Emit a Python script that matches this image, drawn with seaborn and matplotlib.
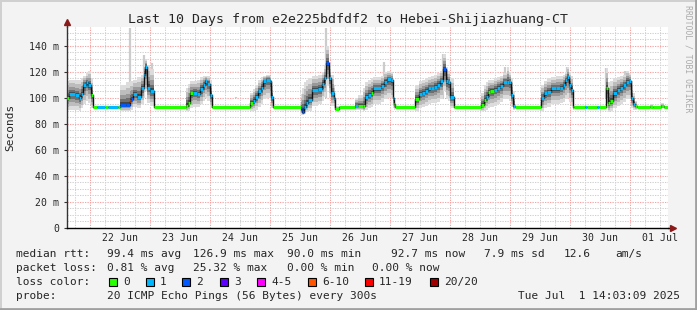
import matplotlib
matplotlib.use("Agg")
import numpy as np
import pandas as pd
import matplotlib.pyplot as plt
from matplotlib.patches import Rectangle
from matplotlib.lines import Line2D
import seaborn as sns

# ---------------- data (hours relative to 22 Jun 2025 00:00) ----------------
hours = [-9.2, -8.4, -6.0, -4.4, -3.6, -2.8, -1.6, -0.8, 0.4, 1.2,
         2.8, 6.0, 7.2, 11.2, 12.0, 14.4, 16.0, 16.4, 17.2, 18.8,
         20.4, 21.6, 22.0, 22.8, 24.0, 25.6, 38.4, 39.2, 40.0, 41.2,
         42.8, 44.0, 45.2, 46.0, 46.8, 48.0, 48.8, 64.0, 65.2, 66.0,
         67.2, 68.4, 69.2, 70.4, 72.0, 72.4, 73.2, 84.4, 84.8, 85.6,
         86.4, 87.2, 88.8, 91.2, 92.8, 93.6, 94.4, 95.6, 96.4, 97.6,
         98.0, 99.6, 106.0, 107.2, 109.2, 110.0, 111.2, 112.4, 113.2, 116.4,
         117.6, 118.8, 120.4, 121.2, 121.6, 122.0, 130.0, 131.6, 132.8, 134.0,
         135.2, 136.4, 137.6, 138.8, 140.0, 141.2, 142.4, 143.2, 144.0, 145.6,
         156.4, 157.6, 158.4, 159.2, 160.0, 161.6, 162.8, 164.0, 165.2, 166.8,
         167.6, 168.4, 169.2, 170.0, 180.4, 181.6, 182.8, 184.4, 186.4, 188.0,
         189.2, 190.0, 190.8, 191.6, 192.4, 193.2, 193.6, 198.0, 198.8, 202.8,
         203.6, 206.4, 207.2, 208.0, 209.2, 210.8, 212.0, 213.2, 214.4, 215.6,
         216.4, 217.2, 218.0, 218.8, 224.0, 225.2, 228.4, 229.6, 231.2]

median_ms = [100, 103, 102, 100, 103, 110, 112, 110, 102, 92.7,
             92.7, 92.7, 92.7, 92.7, 94.5, 94.5, 97.5, 99, 103, 101,
             108, 118, 124, 108, 105, 92.7, 94, 96.5, 103.5, 104,
             103, 107, 110, 113, 111, 102, 92.7, 96.5, 98, 101,
             105, 108, 113, 114, 113, 100.5, 92.7, 91.5, 89.5, 93,
             96, 98.5, 106, 107, 111, 115, 127, 115, 103.5, 100,
             91.8, 92.7, 94, 94, 93.5, 100.5, 102.5, 104, 107.5, 109.5,
             112.5, 114.5, 113.5, 100, 95.5, 92.7, 99, 103, 104, 105.5,
             107.5, 107.5, 108.5, 110, 113, 122.5, 113, 112, 100.5, 92.7,
             94.5, 98.5, 101, 104.5, 105.5, 106.5, 108, 109.5, 112.5, 112.5,
             112, 102, 94, 92.7, 99.7, 103.5, 104.5, 107.5, 107.5, 108,
             110, 113.5, 116, 110, 106, 93, 92.7, 92.7, 92.7, 92.7,
             92.7, 108, 96, 98, 103.5, 106, 108, 110, 112.5, 113,
             100, 95.5, 93.5, 92.7, 92.7, 92.7, 93.5, 92.7, 92.7]

loss_idx = [0, 1, 1, 1, 1, 1, 1, 1, 0, 0,
            1, 0, 1, 0, 2, 2, 5, 2, 1, 1,
            1, 1, 1, 1, 1, 0, 0, 0, 0, 1,
            1, 1, 1, 1, 1, 1, 0, 0, 1, 1,
            1, 1, 1, 1, 1, 1, 0, 2, 2, 1,
            1, 1, 1, 1, 1, 1, 2, 1, 1, 1,
            0, 0, 1, 0, 0, 1, 1, 0, 1, 1,
            1, 1, 1, 1, 0, 0, 0, 1, 1, 1,
            1, 1, 1, 1, 1, 2, 1, 1, 1, 0,
            0, 0, 1, 0, 0, 1, 1, 1, 1, 1,
            1, 1, 1, 0, 1, 1, 1, 1, 1, 1,
            1, 1, 1, 1, 1, 0, 0, 1, 0, 1,
            0, 0, 0, 0, 1, 1, 1, 1, 1, 1,
            1, 1, 0, 0, 0, 0, 0, 0, 0]

smoke_lo = [91, 91, 91, 90, 92, 95, 98, 96, 92, 92,
            92, 92, 92, 92, 90, 90, 90, 91, 93, 92,
            95, 100, 105, 96, 94, 92, 90, 90, 92, 93,
            93, 95, 98, 100, 98, 92, 92, 90, 90, 91,
            93, 95, 99, 100, 98, 92, 92, 87, 87, 88,
            89, 90, 94, 95, 98, 101, 110, 100, 94, 92,
            91, 92, 91, 91, 90, 91, 92, 93, 95, 97,
            99, 100, 99, 92, 91, 92, 90, 92, 93, 94,
            95, 96, 96, 97, 99, 105, 99, 98, 92, 92,
            90, 90, 91, 92, 93, 94, 95, 97, 99, 99,
            98, 93, 91, 92, 90, 92, 93, 95, 95, 96,
            97, 99, 100, 97, 94, 91, 92, 92, 92, 92,
            92, 92, 89, 90, 92, 94, 95, 97, 99, 99,
            92, 91, 91, 92, 92, 92, 92, 92, 92]

smoke_hi = [113, 114, 114, 114, 115, 117, 119, 121, 115, 94,
            94, 93.5, 94, 94, 110, 112, 113, 113, 114, 116,
            118, 126, 130, 125, 122, 94, 108, 111, 113, 113,
            114, 116, 117, 117, 117, 114, 94, 104, 107, 110,
            114, 116, 117, 118, 117, 112, 94, 103, 108, 112,
            114, 115, 117, 118, 120, 125, 140, 125, 118, 110,
            93.5, 93.5, 100, 102, 108, 112, 114, 115, 116, 117,
            120, 121, 120, 112, 100, 94, 110, 113, 114, 115,
            116, 117, 118, 119, 121, 134, 124, 121, 115, 94,
            104, 110, 112, 114, 114, 115, 116, 117, 119, 124,
            120, 115, 105, 94, 110, 113, 115, 116, 117, 117,
            118, 120, 124, 120, 117, 100, 94, 94, 94, 94,
            94, 123, 112, 113, 115, 116, 117, 118, 121, 119,
            113, 104, 98, 94, 95.5, 94, 96, 94, 94]

spike_hours = [16.0, 21.6, 24.8, 58.4, 94.4, 117.6, 141.2, 166.0, 190.8, 206.4, 214.0]
spike_top = [154, 133, 127, 101, 154, 128, 134, 124, 124, 123, 121]

loss_labels = ["0", "1", "2", "3", "4-5", "6-10", "11-19", "20/20"]
loss_colors = ["#26ff00", "#00b8ff", "#0059ff", "#5e00ff", "#ff00ff",
               "#ff5500", "#ff0000", "#a10000"]

y_ticks = [0, 20, 40, 60, 80, 100, 120, 140]

stats_rtt = ["99.4 ms avg", "126.9 ms max", "90.0 ms min", "92.7 ms now",
             "7.9 ms sd", "12.6", "am/s"]
stats_loss = ["0.81 % avg", "25.32 % max", "0.00 % min", "0.00 % now"]

# ---------------- style ----------------
sns.set_style("white")
plt.rcParams["font.family"] = ["DejaVu Sans Mono", "DejaVu Sans"]

W, H = 697, 310
base = pd.Timestamp("2025-06-22 00:00")
t = base + pd.to_timedelta(hours, unit="h")
df = pd.DataFrame({"time": t, "median": median_ms, "loss": loss_idx,
                   "lo": smoke_lo, "hi": smoke_hi})

fig = plt.figure(figsize=(W / 100, H / 100), dpi=100, facecolor="#f3f3f3")
ax = fig.add_axes([67 / W, 82 / H, 601 / W, 201 / H])
ax.set_facecolor("white")

x0 = base - pd.Timedelta(hours=9.3)
x1 = base + pd.Timedelta(hours=231.2)
ax.set_xlim(x0, x1)
ax.set_ylim(0, 154.6)

# grid (drawn beneath data)
minor_c = "#cfcfcf"
major_c = "#f5a3a3"
dash = (0, (1.2, 1.2))
for v in np.arange(5, 155, 5):
    col = major_c if v % 20 == 0 else minor_c
    ax.axhline(v, color=col, lw=0.75, ls=dash, zorder=0.5)
g = pd.Timestamp("2025-06-21 18:00")
while g < x1:
    col = major_c if g.hour == 0 else minor_c
    ax.axvline(g, color=col, lw=0.75, ls=dash, zorder=0.5)
    g += pd.Timedelta(hours=6)

# smoke
med = np.array(median_ms, dtype=float)
lo = np.array(smoke_lo, dtype=float)
hi = np.array(smoke_hi, dtype=float)
for f, c in zip([1.0, 0.75, 0.5, 0.3, 0.14],
                ["#dcdcdc", "#bdbdbd", "#999999", "#6e6e6e", "#444444"]):
    ax.fill_between(df["time"], med - f * (med - lo), med + f * (hi - med),
                    step="post", color=c, lw=0, zorder=1)
sp_t = base + pd.to_timedelta(spike_hours, unit="h")
ax.vlines(sp_t, 100, spike_top, color="#cccccc", lw=1.6, zorder=0.9)

# median line
sns.lineplot(data=df, x="time", y="median", drawstyle="steps-post",
             color="#111111", lw=1.0, ax=ax, zorder=2, legend=False)
for i in range(len(t) - 1):
    ax.hlines(median_ms[i], t[i], t[i + 1], color=loss_colors[loss_idx[i]],
              lw=2.3, zorder=3)

# axes
for s in ["top", "right"]:
    ax.spines[s].set_visible(False)
ax.spines["left"].set_color("#333333")
ax.spines["bottom"].set_color("#000000")
ax.spines["left"].set_linewidth(1.0)
ax.spines["bottom"].set_linewidth(1.0)
ax.plot([0, 0], [1, 1.02], transform=ax.transAxes, color="#333333", lw=1.0,
        clip_on=False)
ax.plot([1, 1.006], [0, 0], transform=ax.transAxes, color="#000000", lw=1.0,
        clip_on=False)
ax.plot([0], [1.025], marker="^", color="#8b1a1a", ms=4.5, transform=ax.transAxes,
        clip_on=False)
ax.plot([1.008], [0], marker=">", color="#8b1a1a", ms=4.5, transform=ax.transAxes,
        clip_on=False)

ax.set_yticks(y_ticks)
ax.set_yticklabels([("0" if v == 0 else f"{v} m") for v in y_ticks])
ax.tick_params(axis="y", length=2.5, width=0.8, color="#333333", pad=3,
               labelsize=7.1, left=True)
noon = pd.date_range("2025-06-22 12:00", periods=10, freq="D")
ax.set_xticks(noon)
ax.set_xticklabels([d.strftime("%d %b") for d in noon])
ax.tick_params(axis="x", length=0, pad=3.5, labelsize=7.1)
ax.set_xlabel("")
ax.set_ylabel("")
ax.grid(False)

# texts
def ftext(x, y, s, **kw):
    kw.setdefault("fontsize", 8.0)
    kw.setdefault("va", "center")
    fig.text(x / W, 1 - y / H, s, **kw)

ftext(348, 19, "Last 10 Days from e2e225bdfdf2 to Hebei-Shijiazhuang-CT",
      ha="center", fontsize=9.5)
ftext(10, 127, "Seconds", ha="center", rotation=90, fontsize=8.0)
ftext(688, 59, "RRDTOOL / TOBI OETIKER", ha="center", rotation=-90,
      fontsize=5.9, color="#ababab")

ftext(16, 254, "median rtt:")
for xp, s in zip([107, 193, 287, 391, 484, 564, 615], stats_rtt):
    ftext(xp, 254, s)
ftext(16, 268, "packet loss:")
for xp, s in zip([107, 193, 287, 372], stats_loss):
    ftext(xp, 268, s)
ftext(16, 282, "loss color:")
box_x = [109, 146, 182, 220, 257, 308, 365, 430]
for bx, c, lab in zip(box_x, loss_colors, loss_labels):
    fig.add_artist(Rectangle((bx / W, 1 - 286 / H), 8 / W, 8 / H,
                             transform=fig.transFigure, facecolor=c,
                             edgecolor="black", lw=0.8))
    ftext(bx + 14, 282, lab)
ftext(16, 296, "probe:")
ftext(107, 296, "20 ICMP Echo Pings (56 Bytes) every 300s")
ftext(680, 296, "Tue Jul  1 14:03:09 2025", ha="right")

# frame
fig.add_artist(Line2D([0, 1], [1 - 1 / H, 1 - 1 / H], transform=fig.transFigure,
                      color="#d0d0d0", lw=1.4))
fig.add_artist(Line2D([1 / W, 1 / W], [0, 1], transform=fig.transFigure,
                      color="#d0d0d0", lw=1.4))
fig.add_artist(Line2D([1 - 1.5 / W, 1 - 1.5 / W], [0, 1], transform=fig.transFigure,
                      color="#a0a0a0", lw=2.0))
fig.add_artist(Line2D([0, 1], [1.5 / H, 1.5 / H], transform=fig.transFigure,
                      color="#a0a0a0", lw=2.0))

fig.savefig("out.png", dpi=100, facecolor=fig.get_facecolor())
